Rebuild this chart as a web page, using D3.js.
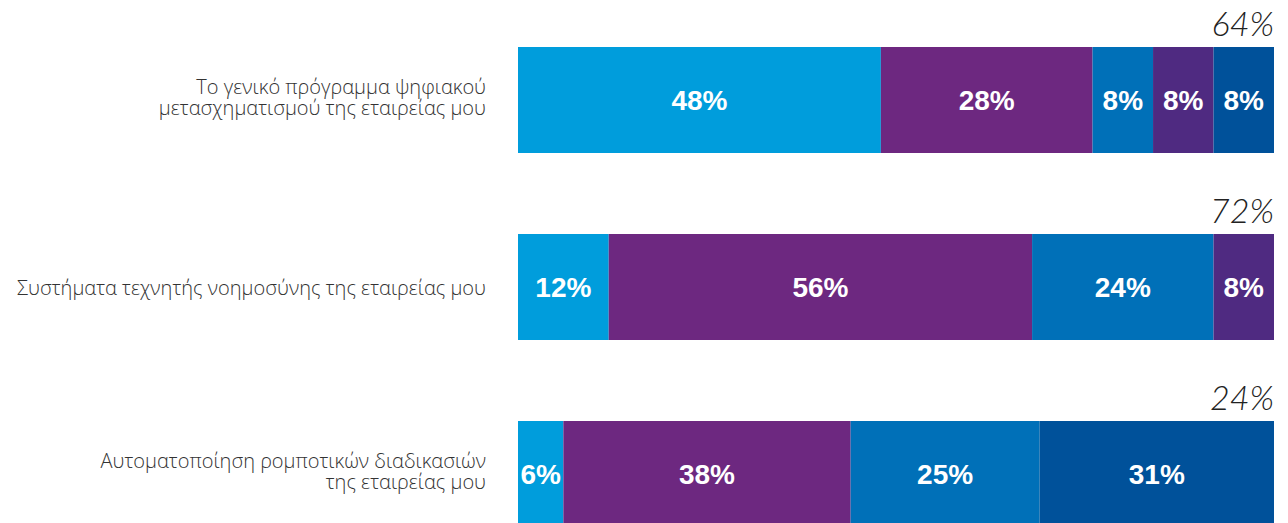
<!DOCTYPE html>
<html>
<head>
<meta charset="utf-8">
<script src="https://cdn.jsdelivr.net/npm/d3@7"></script>
<style>
  html, body { margin: 0; padding: 0; background: #fff; }
  svg { display: block; }
</style>
</head>
<body>
<svg id="chart" width="1288" height="523"></svg>
<script>
// Categories (one stacked bar each), label lines for the left-hand text
const categories = [
  ["Το γενικό πρόγραμμα ψηφιακού", "μετασχηματισμού της εταιρείας μου"],
  ["Συστήματα τεχνητής νοημοσύνης της εταιρείας μου"],
  ["Αυτοματοποίηση ρομποτικών διαδικασιών", "της εταιρείας μου"]
];
// Totals shown above each bar
const totals = [64, 72, 24];
// Segment series, in stacking order
const seriesA = [48, 12, 6];
const seriesB = [28, 56, 38];
const seriesC = [8, 24, 25];
const seriesD = [8, 8, 0];
const seriesE = [8, 0, 31];
const seriesColors = ["#009ddc", "#6d2880", "#0070b8", "#4f2a81", "#00519a"];

const svg = d3.select("#chart");
const width = 1288, height = 523;
const margin = { left: 518, right: 14, top: 47 };
const step = 187, barH = 106;

const keys = ["a", "b", "c", "d", "e"];
const rows = categories.map((c, i) => ({
  idx: i, a: seriesA[i], b: seriesB[i], c: seriesC[i], d: seriesD[i], e: seriesE[i]
}));
const stacked = d3.stack().keys(keys)(rows);

const x = d3.scaleLinear().domain([0, 100]).range([margin.left, width - margin.right]);
const y = d3.scaleBand().domain(d3.range(categories.length))
  .range([margin.top, margin.top + step * categories.length - (step - barH)])
  .paddingInner((step - barH) / step).paddingOuter(0).align(0);

const color = d3.scaleOrdinal().domain(keys).range(seriesColors);

const g = svg.append("g");
const layers = g.selectAll("g.layer").data(stacked).join("g")
  .attr("class", "layer").attr("fill", d => color(d.key));

layers.selectAll("rect").data(d => d.filter(s => s[1] - s[0] > 0)).join("rect")
  .attr("x", d => x(d[0]))
  .attr("y", d => y(d.data.idx))
  .attr("width", d => x(d[1]) - x(d[0]))
  .attr("height", y.bandwidth());

layers.selectAll("text").data(d => d.filter(s => s[1] - s[0] > 0)).join("text")
  .attr("x", d => (x(d[0]) + x(d[1])) / 2)
  .attr("y", d => y(d.data.idx) + y.bandwidth() / 2)
  .attr("dy", "0.36em")
  .attr("text-anchor", "middle")
  .attr("fill", "#fff")
  .style("font-family", "'Liberation Sans', Arial, sans-serif")
  .style("font-weight", 700)
  .style("font-size", "28px")
  .text(d => (d[1] - d[0]) + "%");

// Totals above the bars, right aligned
svg.append("g").selectAll("text").data(totals).join("text")
  .attr("x", x(100))
  .attr("y", (d, i) => y(i) - 11)
  .attr("text-anchor", "end")
  .attr("fill", "#222")
  .style("font-family", "Lato, 'Liberation Sans', sans-serif")
  .style("font-style", "italic")
  .style("font-weight", 300)
  .style("font-size", "34px")
  .text(d => d + "%");

// Category labels on the left; baselines placed relative to the bar centre
const lineH = 21;
const labels = svg.append("g").selectAll("text").data(categories).join("text")
  .attr("text-anchor", "end")
  .attr("fill", "#333")
  .style("font-family", "'Open Sans', 'Noto Sans', sans-serif")
  .style("font-weight", 300)
  .style("font-size", "20px")
  .attr("transform", (d, i) => {
    const c = y(i) + y.bandwidth() / 2;
    const first = d.length > 1 ? c - 6 : c + 8;
    return `translate(486, ${first})`;
  });
labels.selectAll("tspan").data(d => d).join("tspan")
  .attr("x", 0)
  .attr("y", (d, i) => i * lineH)
  .text(d => d);
</script>
</body>
</html>
